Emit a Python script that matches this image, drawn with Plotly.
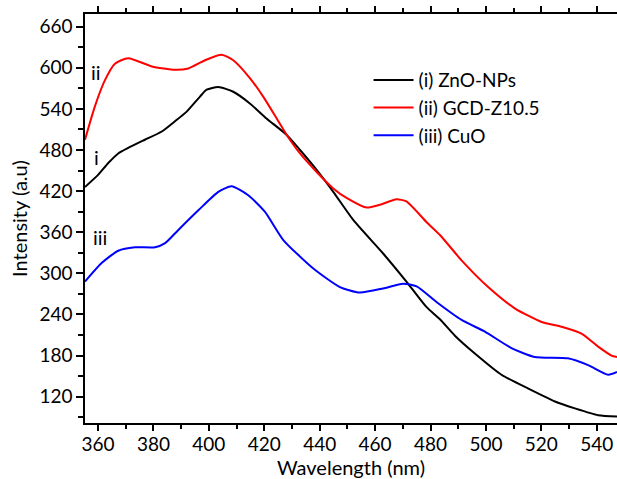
import plotly.graph_objects as go

# (i) ZnO-NPs
zno_x = [355.3, 360.1, 363.7, 367.3, 370.9, 376.9, 383.0, 387.8, 392.0, 396.8, 399.2, 403.4, 408.8,
         414.8, 420.8, 428.1, 432.9, 438.9, 444.9, 452.1, 462.9, 471.3, 478.5, 483.4, 488.8, 496.0,
         505.6, 515.2, 524.9, 532.1, 540.5, 547.3]
zno_y = [426, 444, 461, 475, 483, 495, 507, 522, 536, 558, 568, 572, 565,
         548, 526, 502, 480, 451, 419, 378, 329, 288, 251, 233, 209, 183,
         152, 132, 113, 103, 93, 91]

# (ii) GCD-Z10.5
gcd_x = [355.3, 358.9, 362.5, 366.1, 370.9, 379.4, 387.8, 392.6, 398.6, 404.6, 408.8, 414.8, 419.6,
         424.5, 428.1, 432.9, 438.9, 444.9, 449.7, 456.9, 461.7, 467.7, 471.3, 478.5, 483.4, 491.2,
         500.8, 510.4, 520.1, 527.3, 534.5, 540.5, 545.3, 547.3]
gcd_y = [495, 544, 582, 606, 614, 602, 597, 599, 611, 619, 611, 585, 558,
         526, 502, 475, 448, 424, 410, 396, 400, 408, 405, 375, 356, 319,
         280, 249, 229, 222, 212, 193, 180, 178]

# (iii) CuO
cuo_x = [355.3, 361.3, 367.3, 373.3, 380.6, 384.2, 388.9, 396.2, 403.4, 408.2, 414.2, 420.2,
         426.8, 437.7, 447.3, 454.5, 462.9, 470.1, 475.0, 482.5, 491.2, 499.6, 509.2, 517.6,
         529.6, 536.9, 544.1, 547.3]
cuo_y = [288, 315, 333, 338, 338, 344, 363, 392, 419, 427, 414, 390,
         349, 307, 280, 272, 278, 285, 281, 257, 232, 215, 191, 178,
         176, 166, 152, 156]

x_ticks = [360, 380, 400, 420, 440, 460, 480, 500, 520, 540]
y_ticks = [120, 180, 240, 300, 360, 420, 480, 540, 600, 660]

FONT = "Lato"

fig = go.Figure()
fig.add_trace(go.Scatter(x=zno_x, y=zno_y, mode="lines", name="(i) ZnO-NPs",
                         line=dict(color="black", width=2, shape="spline", smoothing=0.6)))
fig.add_trace(go.Scatter(x=gcd_x, y=gcd_y, mode="lines", name="(ii) GCD-Z10.5",
                         line=dict(color="#ff0000", width=2, shape="spline", smoothing=0.6)))
fig.add_trace(go.Scatter(x=cuo_x, y=cuo_y, mode="lines", name="(iii) CuO",
                         line=dict(color="#0000ff", width=2, shape="spline", smoothing=0.6)))

for txt, xx, yy in [("ii", 359.3, 594), ("i", 359.3, 470), ("iii", 360.7, 353)]:
    fig.add_annotation(x=xx, y=yy, text=txt, showarrow=False,
                       font=dict(family=FONT, size=20, color="black"))

fig.update_layout(
    width=617, height=479,
    margin=dict(l=85, r=0, t=14, b=56, autoexpand=False),
    paper_bgcolor="white", plot_bgcolor="white",
    font=dict(family=FONT, size=19, color="black"),
    showlegend=True,
    legend=dict(x=0.533, y=0.885, xanchor="left", yanchor="top",
                bgcolor="rgba(0,0,0,0)", font=dict(family=FONT, size=19),
                itemwidth=40, tracegroupgap=0),
    xaxis=dict(range=[355.3, 547.3], tickvals=x_ticks, showgrid=False, zeroline=False,
               automargin=False, ticklabelstandoff=-3,
               showline=True, linecolor="black", linewidth=1.5, mirror="ticks",
               ticks="outside", ticklen=6, tickwidth=1.5, tickcolor="black",
               minor=dict(dtick=10, tick0=350, ticks="outside", ticklen=4, tickwidth=1.5, tickcolor="black"),
               title=dict(text="Wavelength (nm)", standoff=10, font=dict(size=20))),
    yaxis=dict(range=[81.6, 678.5], tickvals=y_ticks, showgrid=False, zeroline=False,
               automargin=False,
               showline=True, linecolor="black", linewidth=1.5,
               ticks="outside", ticklen=7, tickwidth=1.5, tickcolor="black",
               minor=dict(dtick=30, tick0=0, ticks="outside", ticklen=5, tickwidth=1.5, tickcolor="black"),
               title=dict(text="Intensity (a.u)", standoff=6, font=dict(size=20))),
)

fig.write_html("out.html", config={"displayModeBar": False},
               post_script="document.body.style.margin='0';document.body.style.overflow='hidden';")
